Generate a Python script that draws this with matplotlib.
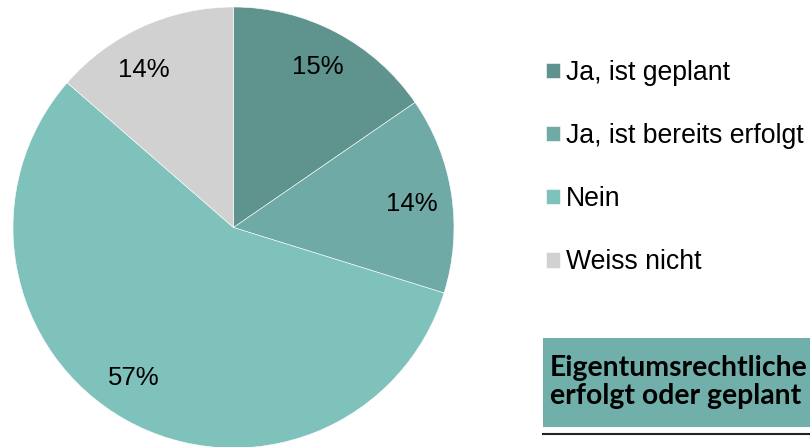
import matplotlib.pyplot as plt
from matplotlib.patches import Rectangle
from matplotlib.lines import Line2D

# Survey answers (shares in percent)
labels = ['Ja, ist geplant', 'Ja, ist bereits erfolgt', 'Nein', 'Weiss nicht']
shares = [15.4, 14.4, 56.6, 13.6]
colors = ['#5f938e', '#6faaa7', '#7fc1bb', '#d1d1d1']
box_title = 'Eigentumsrechtliche\nerfolgt oder geplant'

W, H = 810, 447
fig = plt.figure(figsize=(W / 100, H / 100), dpi=100)
plt.rcParams['font.family'] = ['Liberation Sans', 'DejaVu Sans']

# pie axes placed by pixel box
ax = fig.add_axes([13 / W, (H - 448) / H, 441 / W, 441 / H])
wedges, texts, autotexts = ax.pie(shares, colors=colors, startangle=90, counterclock=False,
                                  autopct='%.0f%%', pctdistance=0.82,
                                  wedgeprops={'edgecolor': 'white', 'linewidth': 0.4},
                                  textprops={'fontsize': 18.5, 'color': 'black'})
ax.set_xlim(-1, 1)
ax.set_ylim(-1, 1)
ax.set_aspect('equal')

# small nudges so labels sit like the original (excel "best fit")
nudge = [(0, 0), (0, -0.018), (-0.054, 0.032), (-0.068, -0.032)]
for t, (dx, dy) in zip(autotexts, nudge):
    x, y = t.get_position()
    t.set_position((x + dx, y + dy))

# legend on the right
fig.legend(wedges, labels, loc='upper left', bbox_to_anchor=(546 / W, 1 - 60 / H),
           frameon=False, fontsize=19.2, borderpad=0, borderaxespad=0,
           handlelength=0.52, handleheight=0.52, handletextpad=0.22, labelspacing=1.39)

# teal title box at the bottom right, cut by the figure edge
fig.patches.append(Rectangle((543 / W, 1 - 427 / H), 300 / W, 89 / H,
                             transform=fig.transFigure, facecolor='#70afaa', edgecolor='none'))
fig.lines.append(Line2D([543 / W, 1.0], [1 - 434 / H, 1 - 434 / H], transform=fig.transFigure,
                        color='#222222', linewidth=1.5))
fig.text(550 / W, 1 - 382 / H, box_title, fontsize=20.4, fontweight='bold', family='Lato',
         va='center', ha='left', linespacing=1.06)

fig.savefig('out.png', dpi=100)
